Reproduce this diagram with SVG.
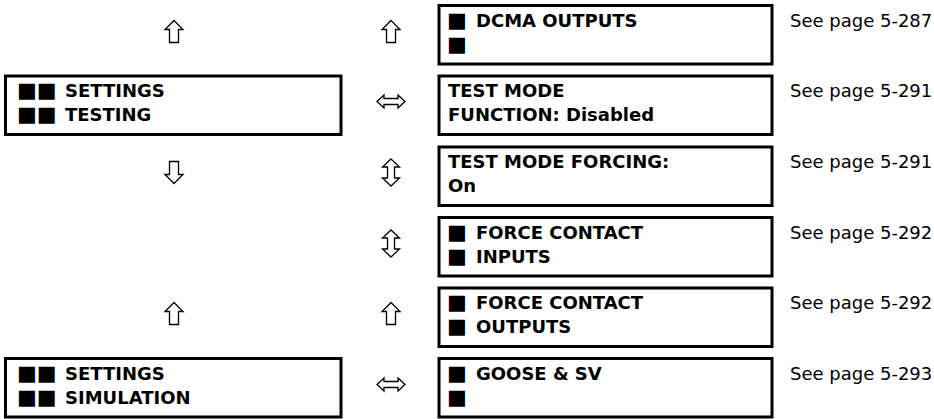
<svg xmlns="http://www.w3.org/2000/svg" width="934" height="419" viewBox="0 0 934 419">
<style>
.box{fill:#fff;stroke:#000;stroke-width:3}
.t{font-family:"DejaVu Sans","Liberation Sans",sans-serif;font-size:18px;font-weight:bold;fill:#000}
.sq{font-family:"DejaVu Sans",sans-serif;font-weight:normal;font-size:21px}
.pg{font-family:"DejaVu Sans","Liberation Sans",sans-serif;font-size:18px;fill:#000}
.arr{fill:#fff;stroke:#000;stroke-width:1.3;stroke-linejoin:miter}
</style>
<defs>
<path id="up" d="M0,-11 L9,-2 L4.5,-2 L4.5,11 L-4.5,11 L-4.5,-2 L-9,-2 Z"/>
<path id="down" d="M0,11 L9,2 L4.5,2 L4.5,-11 L-4.5,-11 L-4.5,2 L-9,2 Z"/>
<path id="lr" d="M-14,0 L-7,-6.5 L-7,-3 L7,-3 L7,-6.5 L14,0 L7,6.5 L7,3 L-7,3 L-7,6.5 Z"/>
<path id="ud" d="M0,-13.5 L8.5,-5.5 L3.5,-5.5 L3.5,5.5 L8.5,5.5 L0,13.5 L-8.5,5.5 L-3.5,5.5 L-3.5,-5.5 L-8.5,-5.5 Z"/>
</defs>

<g id="connectors" class="arr">
<use href="#up" x="174" y="31.5"/>
<use href="#down" x="174" y="172.5"/>
<use href="#up" x="174" y="313.5"/>
<use href="#up" x="391" y="31.5"/>
<use href="#lr" x="391" y="101.5"/>
<use href="#ud" x="391" y="172.5"/>
<use href="#ud" x="391" y="243.5"/>
<use href="#up" x="391" y="313.5"/>
<use href="#lr" x="391" y="384.5"/>
</g>

<g id="settings-testing">
<rect class="box" x="5.5" y="76" width="335.5" height="58.5"/>
<text class="t" x="17" y="97"><tspan class="sq">■■</tspan><tspan x="65">SETTINGS</tspan></text>
<text class="t" x="17" y="121"><tspan class="sq">■■</tspan><tspan x="65">TESTING</tspan></text>
</g>

<g id="settings-simulation">
<rect class="box" x="5.5" y="358.5" width="335.5" height="58.5"/>
<text class="t" x="17" y="379.5"><tspan class="sq">■■</tspan><tspan x="65">SETTINGS</tspan></text>
<text class="t" x="17" y="403.5"><tspan class="sq">■■</tspan><tspan x="65">SIMULATION</tspan></text>
</g>

<g id="dcma-outputs">
<rect class="box" x="439" y="5.5" width="333" height="58.5"/>
<text class="t" x="447" y="26.5"><tspan class="sq">■</tspan><tspan x="476">DCMA OUTPUTS</tspan></text>
<text class="t" x="447" y="50.5"><tspan class="sq">■</tspan></text>
<text class="pg" x="790" y="26.5">See page 5-287</text>
</g>

<g id="test-mode-function">
<rect class="box" x="439" y="76" width="333" height="58.5"/>
<text class="t" x="448" y="97">TEST MODE</text>
<text class="t" x="448" y="121">FUNCTION: Disabled</text>
<text class="pg" x="790" y="97">See page 5-291</text>
</g>

<g id="test-mode-forcing">
<rect class="box" x="439" y="147" width="333" height="58.5"/>
<text class="t" x="448" y="168">TEST MODE FORCING:</text>
<text class="t" x="448" y="192">On</text>
<text class="pg" x="790" y="168">See page 5-291</text>
</g>

<g id="force-contact-inputs">
<rect class="box" x="439" y="217.5" width="333" height="58.5"/>
<text class="t" x="447" y="238.5"><tspan class="sq">■</tspan><tspan x="476">FORCE CONTACT</tspan></text>
<text class="t" x="447" y="262.5"><tspan class="sq">■</tspan><tspan x="476">INPUTS</tspan></text>
<text class="pg" x="790" y="238.5">See page 5-292</text>
</g>

<g id="force-contact-outputs">
<rect class="box" x="439" y="288" width="333" height="58.5"/>
<text class="t" x="447" y="309"><tspan class="sq">■</tspan><tspan x="476">FORCE CONTACT</tspan></text>
<text class="t" x="447" y="333"><tspan class="sq">■</tspan><tspan x="476">OUTPUTS</tspan></text>
<text class="pg" x="790" y="309">See page 5-292</text>
</g>

<g id="goose-sv">
<rect class="box" x="439" y="358.5" width="333" height="58.5"/>
<text class="t" x="447" y="379.5"><tspan class="sq">■</tspan><tspan x="476">GOOSE &amp; SV</tspan></text>
<text class="t" x="447" y="403.5"><tspan class="sq">■</tspan></text>
<text class="pg" x="790" y="379.5">See page 5-293</text>
</g>
</svg>
